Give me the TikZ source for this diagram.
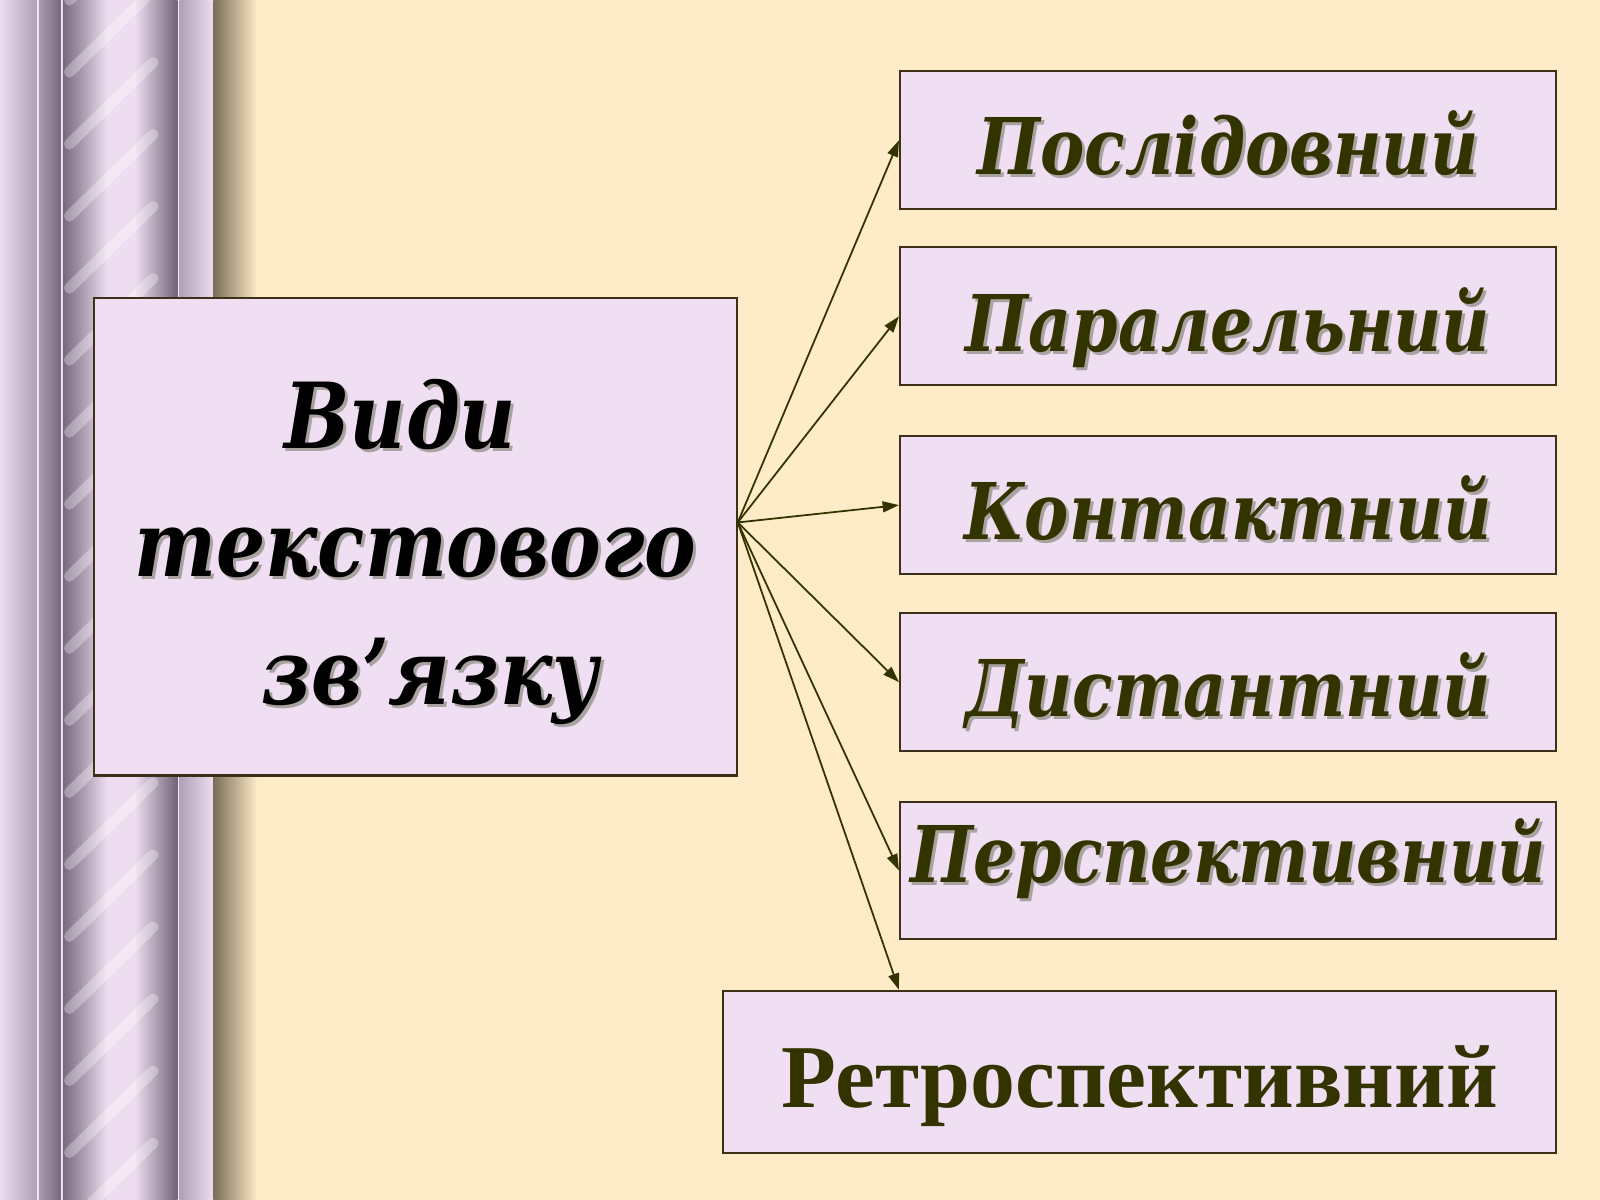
\documentclass[tikz,border=0pt]{standalone}
\usepackage{fontspec}
\setmainfont{Liberation Serif}
\newfontfamily\cursiveface[FakeStretch=0.85]{DejaVu Serif}
\usetikzlibrary{arrows.meta}

\definecolor{cream}{RGB}{254,235,199}
\definecolor{boxfill}{RGB}{240,223,242}
\definecolor{boxline}{RGB}{60,48,24}
\definecolor{textolive}{RGB}{51,51,0}
\definecolor{shadowgray}{RGB}{168,162,160}
\definecolor{lavlight}{RGB}{238,221,240}
\definecolor{lavmid}{RGB}{176,160,182}
\definecolor{lavdark}{RGB}{120,104,126}
\definecolor{pillarshadow}{RGB}{122,110,88}

% text with a soft drop shadow
\newcommand{\shtext}[1]{\leavevmode\rlap{\kern2.2pt\raisebox{-2.2pt}{\color{shadowgray}#1}}#1}

\tikzset{every picture/.style={line width=0.75pt}}
\tikzset{
  mainbox/.style={draw=boxline, line width=1.5pt, fill=boxfill, minimum width=472.5pt, minimum height=351pt, inner sep=0pt, text width=460pt, align=center, text height=0pt, text depth=129pt, font=\cursiveface\fontsize{67}{94}\selectfont\bfseries\itshape, text=black},
  kindbox/.style={draw=boxline, line width=1.5pt, fill=boxfill, minimum width=482.25pt, minimum height=101.25pt, inner sep=0pt, text height=51pt, text depth=0pt, font=\cursiveface\fontsize{57.5}{70}\selectfont\bfseries\itshape, text=textolive},
  retrobox/.style={draw=boxline, line width=1.5pt, fill=boxfill, minimum width=612pt, minimum height=119.25pt, inner sep=0pt, text height=52pt, text depth=0pt, font=\fontsize{66}{80}\selectfont\bfseries, text=textolive},
  link/.style={draw=textolive, line width=1.3pt, -{Triangle[length=12pt,width=8pt]}},
}

\begin{document}
\begin{tikzpicture}[x=0.75pt,y=0.75pt,yscale=-1,xscale=1]
%Background
\fill[cream] (0,0) rectangle (1568,1176);

%Pillar
\shade[left color=lavlight, right color=lavmid] (0,0) rectangle (36,1176);
\fill[lavlight!60!white] (36,0) rectangle (38,1176);
\shade[left color=lavmid!90!lavdark, right color=lavdark] (38,0) rectangle (60,1176);
\fill[lavlight!60!white] (60,0) rectangle (61.5,1176);
\shade[left color=lavdark, right color=lavlight] (61.5,0) rectangle (105,1176);
\fill[lavlight] (105,0) rectangle (132,1176);
\shade[left color=lavlight, right color=lavdark!95!black] (132,0) rectangle (174,1176);
\begin{scope}
  \clip (61.5,0) rectangle (174,1176);
  \foreach \y in {0,70.6,...,1300}
    \draw[white, line width=8pt, line cap=round, opacity=0.3] (68,\y) -- (150,\y-80);
\end{scope}
\fill[lavlight!60!white] (174,0) rectangle (176,1176);
\shade[left color=lavmid, right color=lavlight] (176,0) rectangle (209,1176);
\shade[left color=pillarshadow, right color=cream] (209,0) rectangle (252,1176);

%Boxes
\node[mainbox] (main) at (407,526) {\shtext{Види}\hspace*{22pt}\null\\\shtext{текстового}\\\leavevmode\hspace*{22pt}\shtext{зв’язку}};
\node[kindbox] (posl) at (1203.5,137.5) {\shtext{Послідовний}};
\node[kindbox] (paral) at (1203.5,310) {\shtext{Паралельний}};
\node[kindbox] (kont) at (1203.5,495) {\shtext{Контактний}};
\node[kindbox] (dyst) at (1203.5,668.5) {\shtext{Дистантний}};
\node[kindbox, text height=18pt] (persp) at (1203.5,853) {\shtext{Перспективний}};
\node[retrobox] (retro) at (1117,1050.5) {Ретроспективний};

%Links
\coordinate (hub) at ([yshift=-10.5pt]main.east);
\foreach \k in {posl,paral,kont,dyst,persp}
  \draw[link] (hub) -- (\k.west);
\draw[link] (hub) -- (persp.west |- retro.north);

\end{tikzpicture}
\end{document}
